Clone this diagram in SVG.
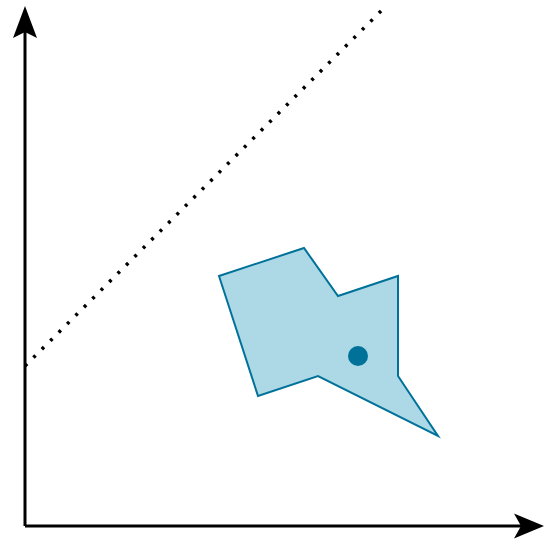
<svg xmlns="http://www.w3.org/2000/svg" width="548" height="541" viewBox="0 0 548 541">
<style>
.axis{stroke:#000;stroke-width:3;fill:none}
.head{fill:#000;stroke:none}
.dots{stroke:#000;stroke-width:3.5;stroke-dasharray:3 8.9;fill:none}
.shape{fill:#add8e6;stroke:#00729a;stroke-width:2;stroke-linejoin:miter}
.pt{fill:#00729a}
</style>
<g id="connectors">
<path class="axis" d="M25,526 V28"/>
<path class="axis" d="M25,526 H523"/>
<path class="head" d="M25,6 L37,38 L25,32 L13,38 Z"/>
<path class="head" d="M544,526 L514,538.5 L521,526 L514,513.5 Z"/>
<path class="dots" d="M25,366 L385,7"/>
</g>
<g id="polygon">
<polygon class="shape" points="219,276 304,248 338,296 398,276 398,376 438,436 318,376 258,396"/>
</g>
<g id="point">
<circle class="pt" cx="358" cy="356" r="10"/>
</g>
</svg>
